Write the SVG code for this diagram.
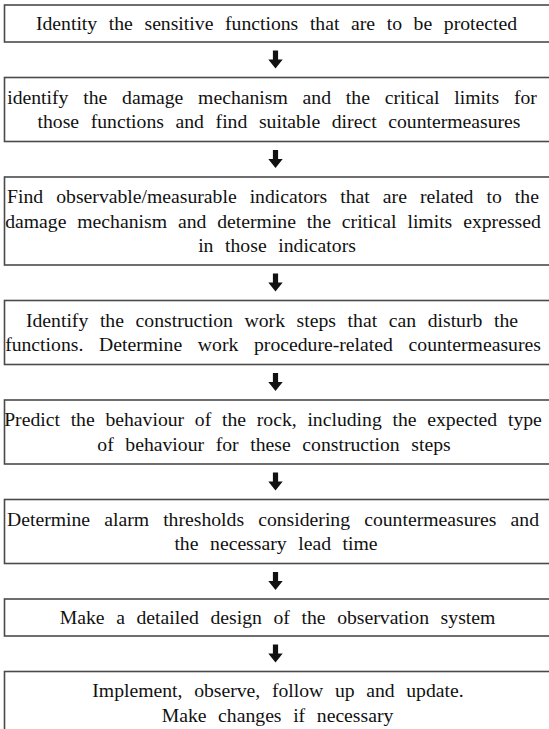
<svg xmlns="http://www.w3.org/2000/svg" width="549" height="729" viewBox="0 0 549 729">
<style>
.box{fill:#fff;stroke:#4a4a4a;stroke-width:1.6}
.t{font-family:"Liberation Serif","Times New Roman",serif;font-size:19.7px;fill:#111;text-anchor:middle;word-spacing:6.7px}
.arr{fill:#111}
</style>
<defs>
<path id="arrow" class="arr" d="M-2.6,-9 H2.6 V0 H7.2 L0,9 L-7.2,0 H-2.6 Z"/>
</defs>
<rect width="549" height="729" fill="#fff"/>
<g id="connectors">
<use href="#arrow" x="275.5" y="59.5"/>
<use href="#arrow" x="275.5" y="159"/>
<use href="#arrow" x="275.5" y="282.5"/>
<use href="#arrow" x="275.5" y="382"/>
<use href="#arrow" x="275.5" y="481.5"/>
<use href="#arrow" x="275.5" y="581"/>
<use href="#arrow" x="275.5" y="653.5"/>
</g>
<g id="n1">
<rect class="box" x="4.5" y="5" width="560" height="37"/>
<text class="t" x="276.5" y="29.5">Identity the sensitive functions that are to be protected</text>
</g>
<g id="n2">
<rect class="box" x="4.5" y="77.5" width="560" height="64"/>
<text class="t" x="272" y="103.5" style="word-spacing:9.9px">identify the damage mechanism and the critical limits for</text>
<text class="t" x="279" y="128">those functions and find suitable direct countermeasures</text>
</g>
<g id="n3">
<rect class="box" x="4.5" y="177" width="560" height="88"/>
<text class="t" x="273" y="203" style="word-spacing:8.1px">Find observable/measurable indicators that are related to the</text>
<text class="t" x="273" y="227.5" style="word-spacing:6px">damage mechanism and determine the critical limits expressed</text>
<text class="t" x="277" y="252">in those indicators</text>
</g>
<g id="n4">
<rect class="box" x="4.5" y="300.5" width="560" height="64"/>
<text class="t" x="272" y="326.5">Identify the construction work steps that can disturb the</text>
<text class="t" x="273" y="351" style="word-spacing:10.8px">functions. Determine work procedure-related countermeasures</text>
</g>
<g id="n5">
<rect class="box" x="4.5" y="400" width="560" height="64"/>
<text class="t" x="273" y="426" style="word-spacing:5.8px">Predict the behaviour of the rock, including the expected type</text>
<text class="t" x="274" y="450.5">of behaviour for these construction steps</text>
</g>
<g id="n6">
<rect class="box" x="4.5" y="499.5" width="560" height="64"/>
<text class="t" x="273" y="525.5" style="word-spacing:9.2px">Determine alarm thresholds considering countermeasures and</text>
<text class="t" x="276" y="550">the necessary lead time</text>
</g>
<g id="n7">
<rect class="box" x="4.5" y="599" width="560" height="37"/>
<text class="t" x="277.5" y="623.5">Make a detailed design of the observation system</text>
</g>
<g id="n8">
<rect class="box" x="4.5" y="671.5" width="560" height="80"/>
<text class="t" x="278" y="697">Implement, observe, follow up and update.</text>
<text class="t" x="277.5" y="721.5">Make changes if necessary</text>
</g>
</svg>
